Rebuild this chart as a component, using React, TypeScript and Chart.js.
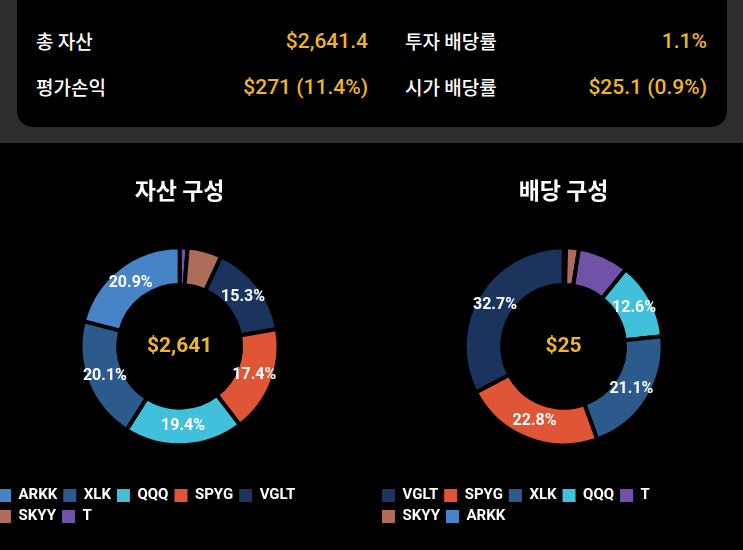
import React, { useEffect, useRef } from 'react';
import { Chart, registerables, DoughnutController } from 'chart.js';

Chart.register(...registerables);

// ---- data ----
const ASSET_TICKERS = ['ARKK', 'XLK', 'QQQ', 'SPYG', 'VGLT', 'SKYY', 'T'];
const ASSET_SHARES = [20.9, 20.1, 19.4, 17.4, 15.3, 5.6, 1.3];
const ASSET_CENTER = '$2,641';
const ASSET_TITLE = '자산 구성';

const DIV_TICKERS = ['VGLT', 'SPYG', 'XLK', 'QQQ', 'T', 'SKYY', 'ARKK'];
const DIV_SHARES = [32.7, 22.8, 21.1, 12.6, 8.3, 2.1, 0.4];
const DIV_CENTER = '$25';
const DIV_TITLE = '배당 구성';

const SUMMARY_LABELS = ['총 자산', '평가손익', '투자 배당률', '시가 배당률'];
const SUMMARY_VALUES = ['$2,641.4', '$271 (11.4%)', '1.1%', '$25.1 (0.9%)'];

// ---- styles ----
const TICKER_COLORS: Record<string, string> = {
  ARKK: '#4784c7',
  XLK: '#2c5a8c',
  QQQ: '#40c0da',
  SPYG: '#e05535',
  VGLT: '#1b345e',
  SKYY: '#ad6d5b',
  T: '#7052a6',
};
const GOLD = '#efb52a';
const KR_FONT = "'Noto Sans CJK KR', 'Noto Sans', sans-serif";

const donutText = {
  id: 'donutText',
  afterDatasetsDraw(chart: any, _args: any, opts: any) {
    const { ctx } = chart;
    const meta = chart.getDatasetMeta(0);
    const data = chart.data.datasets[0].data as number[];
    const total = data.reduce((a, b) => a + b, 0);
    ctx.save();
    ctx.textAlign = 'center';
    ctx.textBaseline = 'middle';
    ctx.fillStyle = '#ffffff';
    ctx.font = 'bold 16px Roboto';
    meta.data.forEach((arc: any, i: number) => {
      const pct = (data[i] / total) * 100;
      if (pct < 10) return;
      const p = arc.tooltipPosition(false);
      ctx.fillText(pct.toFixed(1) + '%', p.x, p.y);
    });
    const a0 = meta.data[0];
    ctx.fillStyle = GOLD;
    ctx.font = 'bold 21px Roboto';
    ctx.fillText(opts.center, a0.x, a0.y);
    ctx.restore();
  },
};

function Donut(props: { title: string; tickers: string[]; values: number[]; center: string; left: number; top: number }) {
  const ref = useRef<HTMLCanvasElement>(null);
  useEffect(() => {
    const labels = [...props.tickers].reverse();
    const values = [...props.values].reverse();
    const baseGen = (DoughnutController as any).overrides.plugins.legend.labels.generateLabels;
    const chart = new Chart(ref.current as HTMLCanvasElement, {
      type: 'doughnut',
      data: {
        labels,
        datasets: [
          {
            data: values,
            backgroundColor: labels.map((t) => TICKER_COLORS[t]),
            borderColor: '#000000',
            borderWidth: 4,
            hoverOffset: 0,
          },
        ],
      },
      options: {
        responsive: false,
        animation: false,
        events: [],
        cutout: '62%',
        radius: 99,
        plugins: {
          title: {
            display: true,
            text: props.title,
            fullSize: false,
            color: '#ffffff',
            font: { family: KR_FONT, size: 23, weight: '600' },
            padding: { top: 17, bottom: 7 },
          },
          subtitle: {
            display: true,
            text: '',
            position: 'left',
            fullSize: false,
            font: { size: 1 },
            padding: { top: 0, bottom: 54 },
          },
          legend: {
            position: 'bottom',
            align: 'start',
            reverse: true,
            labels: {
              color: '#ffffff',
              boxWidth: 13,
              boxHeight: 13,
              padding: 6,
              font: { family: 'Roboto', size: 15, weight: 'bold' },
              generateLabels: (c: any) => baseGen(c).map((l: any) => ({ ...l, lineWidth: 0 })),
            },
          },
          tooltip: { enabled: false },
          donutText: { center: props.center },
        } as any,
      },
      plugins: [donutText],
    });
    return () => chart.destroy();
  }, []);
  return (
    <canvas
      ref={ref}
      width={320}
      height={375}
      style={{ position: 'absolute', left: props.left, top: props.top, width: 320, height: 375 }}
    />
  );
}

function SummaryText(props: { text: string; y: number; left?: number; right?: number; gold?: boolean }) {
  const style: React.CSSProperties = {
    position: 'absolute',
    top: props.y - 15,
    height: 30,
    lineHeight: '30px',
    whiteSpace: 'nowrap',
    color: props.gold ? GOLD : '#ffffff',
    fontFamily: props.gold ? 'Roboto, sans-serif' : KR_FONT,
    fontSize: props.gold ? 21 : 19,
    fontWeight: 500,
  };
  if (props.left !== undefined) style.left = props.left;
  if (props.right !== undefined) style.right = props.right;
  return <div style={style}>{props.text}</div>;
}

export default function App() {
  return (
    <div style={{ position: 'fixed', left: 0, top: 0, width: 743, height: 550, background: '#000', overflow: 'hidden' }}>
      <div style={{ position: 'absolute', left: 0, top: 0, width: 743, height: 143, background: '#2d2d2d' }} />
      <div style={{ position: 'absolute', left: 17, top: -20, width: 710, height: 147, background: '#000', borderRadius: 16 }} />
      <SummaryText text={SUMMARY_LABELS[0]} y={41} left={36} />
      <SummaryText text={SUMMARY_VALUES[0]} y={41} right={375} gold />
      <SummaryText text={SUMMARY_LABELS[2]} y={41} left={405} />
      <SummaryText text={SUMMARY_VALUES[2]} y={41} right={36} gold />
      <SummaryText text={SUMMARY_LABELS[1]} y={87} left={36} />
      <SummaryText text={SUMMARY_VALUES[1]} y={87} right={375} gold />
      <SummaryText text={SUMMARY_LABELS[3]} y={87} left={405} />
      <SummaryText text={SUMMARY_VALUES[3]} y={87} right={36} gold />
      <Donut title={ASSET_TITLE} tickers={ASSET_TICKERS} values={ASSET_SHARES} center={ASSET_CENTER} left={-8} top={159} />
      <Donut title={DIV_TITLE} tickers={DIV_TICKERS} values={DIV_SHARES} center={DIV_CENTER} left={376} top={159} />
    </div>
  );
}
